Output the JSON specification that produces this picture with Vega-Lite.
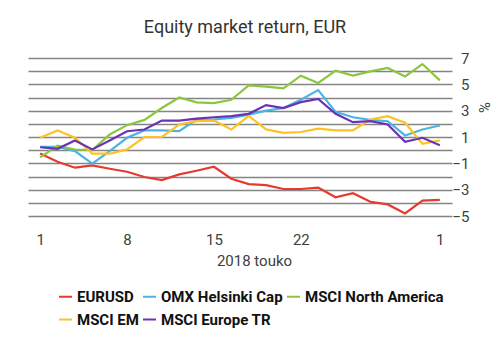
{
  "$schema": "https://vega.github.io/schema/vega-lite/v6.json",
  "width": 424,
  "height": 158,
  "autosize": {"type": "none"},
  "padding": {"left": 28, "top": 58, "right": 49, "bottom": 136},
  "background": "white",
  "title": {
    "text": "Equity market return, EUR",
    "font": "Roboto",
    "fontSize": 18,
    "fontWeight": "normal",
    "color": "#333333",
    "anchor": "middle",
    "dx": 5,
    "offset": 14
  },
  "data": {
    "values": [
      {"date": "2018-05-01", "series": "EURUSD", "value": -0.25},
      {"date": "2018-05-02", "series": "EURUSD", "value": -0.88},
      {"date": "2018-05-03", "series": "EURUSD", "value": -1.33},
      {"date": "2018-05-04", "series": "EURUSD", "value": -1.16},
      {"date": "2018-05-07", "series": "EURUSD", "value": -1.41},
      {"date": "2018-05-08", "series": "EURUSD", "value": -1.64},
      {"date": "2018-05-09", "series": "EURUSD", "value": -2.04},
      {"date": "2018-05-10", "series": "EURUSD", "value": -2.27},
      {"date": "2018-05-11", "series": "EURUSD", "value": -1.84},
      {"date": "2018-05-14", "series": "EURUSD", "value": -1.56},
      {"date": "2018-05-15", "series": "EURUSD", "value": -1.26},
      {"date": "2018-05-16", "series": "EURUSD", "value": -2.17},
      {"date": "2018-05-17", "series": "EURUSD", "value": -2.58},
      {"date": "2018-05-18", "series": "EURUSD", "value": -2.66},
      {"date": "2018-05-21", "series": "EURUSD", "value": -2.95},
      {"date": "2018-05-22", "series": "EURUSD", "value": -2.95},
      {"date": "2018-05-23", "series": "EURUSD", "value": -2.84},
      {"date": "2018-05-24", "series": "EURUSD", "value": -3.58},
      {"date": "2018-05-25", "series": "EURUSD", "value": -3.27},
      {"date": "2018-05-28", "series": "EURUSD", "value": -3.92},
      {"date": "2018-05-29", "series": "EURUSD", "value": -4.12},
      {"date": "2018-05-30", "series": "EURUSD", "value": -4.8},
      {"date": "2018-05-31", "series": "EURUSD", "value": -3.83},
      {"date": "2018-06-01", "series": "EURUSD", "value": -3.78},

      {"date": "2018-05-01", "series": "OMX Helsinki Cap", "value": 0.26},
      {"date": "2018-05-02", "series": "OMX Helsinki Cap", "value": 0.26},
      {"date": "2018-05-03", "series": "OMX Helsinki Cap", "value": -0.07},
      {"date": "2018-05-04", "series": "OMX Helsinki Cap", "value": -1.03},
      {"date": "2018-05-07", "series": "OMX Helsinki Cap", "value": -0.07},
      {"date": "2018-05-08", "series": "OMX Helsinki Cap", "value": 0.94},
      {"date": "2018-05-09", "series": "OMX Helsinki Cap", "value": 1.5},
      {"date": "2018-05-10", "series": "OMX Helsinki Cap", "value": 1.5},
      {"date": "2018-05-11", "series": "OMX Helsinki Cap", "value": 1.44},
      {"date": "2018-05-14", "series": "OMX Helsinki Cap", "value": 2.33},
      {"date": "2018-05-15", "series": "OMX Helsinki Cap", "value": 2.33},
      {"date": "2018-05-16", "series": "OMX Helsinki Cap", "value": 2.45},
      {"date": "2018-05-17", "series": "OMX Helsinki Cap", "value": 2.7},
      {"date": "2018-05-18", "series": "OMX Helsinki Cap", "value": 3.0},
      {"date": "2018-05-21", "series": "OMX Helsinki Cap", "value": 3.2},
      {"date": "2018-05-22", "series": "OMX Helsinki Cap", "value": 3.83},
      {"date": "2018-05-23", "series": "OMX Helsinki Cap", "value": 4.56},
      {"date": "2018-05-24", "series": "OMX Helsinki Cap", "value": 2.91},
      {"date": "2018-05-25", "series": "OMX Helsinki Cap", "value": 2.5},
      {"date": "2018-05-28", "series": "OMX Helsinki Cap", "value": 2.3},
      {"date": "2018-05-29", "series": "OMX Helsinki Cap", "value": 2.2},
      {"date": "2018-05-30", "series": "OMX Helsinki Cap", "value": 1.12},
      {"date": "2018-05-31", "series": "OMX Helsinki Cap", "value": 1.57},
      {"date": "2018-06-01", "series": "OMX Helsinki Cap", "value": 1.87},

      {"date": "2018-05-01", "series": "MSCI North America", "value": -0.55},
      {"date": "2018-05-02", "series": "MSCI North America", "value": 0.35},
      {"date": "2018-05-03", "series": "MSCI North America", "value": 0.05},
      {"date": "2018-05-04", "series": "MSCI North America", "value": 0.0},
      {"date": "2018-05-07", "series": "MSCI North America", "value": 1.19},
      {"date": "2018-05-08", "series": "MSCI North America", "value": 1.9},
      {"date": "2018-05-09", "series": "MSCI North America", "value": 2.3},
      {"date": "2018-05-10", "series": "MSCI North America", "value": 3.2},
      {"date": "2018-05-11", "series": "MSCI North America", "value": 4.0},
      {"date": "2018-05-14", "series": "MSCI North America", "value": 3.63},
      {"date": "2018-05-15", "series": "MSCI North America", "value": 3.58},
      {"date": "2018-05-16", "series": "MSCI North America", "value": 3.83},
      {"date": "2018-05-17", "series": "MSCI North America", "value": 4.92},
      {"date": "2018-05-18", "series": "MSCI North America", "value": 4.82},
      {"date": "2018-05-21", "series": "MSCI North America", "value": 4.69},
      {"date": "2018-05-22", "series": "MSCI North America", "value": 5.66},
      {"date": "2018-05-23", "series": "MSCI North America", "value": 5.1},
      {"date": "2018-05-24", "series": "MSCI North America", "value": 6.04},
      {"date": "2018-05-25", "series": "MSCI North America", "value": 5.66},
      {"date": "2018-05-28", "series": "MSCI North America", "value": 5.98},
      {"date": "2018-05-29", "series": "MSCI North America", "value": 6.24},
      {"date": "2018-05-30", "series": "MSCI North America", "value": 5.6},
      {"date": "2018-05-31", "series": "MSCI North America", "value": 6.54},
      {"date": "2018-06-01", "series": "MSCI North America", "value": 5.3},

      {"date": "2018-05-01", "series": "MSCI EM", "value": 0.94},
      {"date": "2018-05-02", "series": "MSCI EM", "value": 1.5},
      {"date": "2018-05-03", "series": "MSCI EM", "value": 0.94},
      {"date": "2018-05-04", "series": "MSCI EM", "value": -0.27},
      {"date": "2018-05-07", "series": "MSCI EM", "value": -0.27},
      {"date": "2018-05-08", "series": "MSCI EM", "value": 0.06},
      {"date": "2018-05-09", "series": "MSCI EM", "value": 1.0},
      {"date": "2018-05-10", "series": "MSCI EM", "value": 1.0},
      {"date": "2018-05-11", "series": "MSCI EM", "value": 1.95},
      {"date": "2018-05-14", "series": "MSCI EM", "value": 2.2},
      {"date": "2018-05-15", "series": "MSCI EM", "value": 2.25},
      {"date": "2018-05-16", "series": "MSCI EM", "value": 1.57},
      {"date": "2018-05-17", "series": "MSCI EM", "value": 2.6},
      {"date": "2018-05-18", "series": "MSCI EM", "value": 1.58},
      {"date": "2018-05-21", "series": "MSCI EM", "value": 1.32},
      {"date": "2018-05-22", "series": "MSCI EM", "value": 1.38},
      {"date": "2018-05-23", "series": "MSCI EM", "value": 1.63},
      {"date": "2018-05-24", "series": "MSCI EM", "value": 1.5},
      {"date": "2018-05-25", "series": "MSCI EM", "value": 1.5},
      {"date": "2018-05-28", "series": "MSCI EM", "value": 2.33},
      {"date": "2018-05-29", "series": "MSCI EM", "value": 2.58},
      {"date": "2018-05-30", "series": "MSCI EM", "value": 2.08},
      {"date": "2018-05-31", "series": "MSCI EM", "value": 0.48},
      {"date": "2018-06-01", "series": "MSCI EM", "value": 0.74},

      {"date": "2018-05-01", "series": "MSCI Europe TR", "value": 0.22},
      {"date": "2018-05-02", "series": "MSCI Europe TR", "value": 0.1},
      {"date": "2018-05-03", "series": "MSCI Europe TR", "value": 0.74},
      {"date": "2018-05-04", "series": "MSCI Europe TR", "value": 0.06},
      {"date": "2018-05-07", "series": "MSCI Europe TR", "value": 0.74},
      {"date": "2018-05-08", "series": "MSCI Europe TR", "value": 1.44},
      {"date": "2018-05-09", "series": "MSCI Europe TR", "value": 1.57},
      {"date": "2018-05-10", "series": "MSCI Europe TR", "value": 2.25},
      {"date": "2018-05-11", "series": "MSCI Europe TR", "value": 2.25},
      {"date": "2018-05-14", "series": "MSCI Europe TR", "value": 2.4},
      {"date": "2018-05-15", "series": "MSCI Europe TR", "value": 2.5},
      {"date": "2018-05-16", "series": "MSCI Europe TR", "value": 2.58},
      {"date": "2018-05-17", "series": "MSCI Europe TR", "value": 2.76},
      {"date": "2018-05-18", "series": "MSCI Europe TR", "value": 3.42},
      {"date": "2018-05-21", "series": "MSCI Europe TR", "value": 3.2},
      {"date": "2018-05-22", "series": "MSCI Europe TR", "value": 3.65},
      {"date": "2018-05-23", "series": "MSCI Europe TR", "value": 3.89},
      {"date": "2018-05-24", "series": "MSCI Europe TR", "value": 2.76},
      {"date": "2018-05-25", "series": "MSCI Europe TR", "value": 2.13},
      {"date": "2018-05-28", "series": "MSCI Europe TR", "value": 2.2},
      {"date": "2018-05-29", "series": "MSCI Europe TR", "value": 1.95},
      {"date": "2018-05-30", "series": "MSCI Europe TR", "value": 0.64},
      {"date": "2018-05-31", "series": "MSCI Europe TR", "value": 0.94},
      {"date": "2018-06-01", "series": "MSCI Europe TR", "value": 0.38}
    ]
  },
  "mark": {"type": "line", "strokeWidth": 2.2, "interpolate": "linear"},
  "encoding": {
    "x": {
      "field": "date",
      "type": "ordinal",
      "scale": {"type": "point", "padding": 0.7},
      "axis": {
        "title": "2018 touko",
        "values": ["2018-05-01", "2018-05-08", "2018-05-15", "2018-05-22", "2018-06-01"],
        "labelExpr": "toNumber(substring(datum.value, 8, 10))",
        "labelAngle": 0,
        "labelDx": 7,
        "ticks": false,
        "domain": false,
        "grid": false,
        "labelPadding": 16,
        "labelFont": "Roboto",
        "labelFontSize": 15,
        "labelColor": "#404040",
        "titleFont": "Roboto",
        "titleFontSize": 15,
        "titleFontWeight": "normal",
        "titleColor": "#404040",
        "titlePadding": 6,
        "titleX": 226
      }
    },
    "y": {
      "field": "value",
      "type": "quantitative",
      "scale": {"domain": [-5, 7], "nice": false, "zero": false},
      "axis": {
        "orient": "right",
        "title": "%",
        "values": [-5, -4, -3, -2, -1, 0, 1, 2, 3, 4, 5, 6, 7],
        "labelExpr": "datum.value % 2 != 0 ? datum.label : ''",
        "ticks": false,
        "domain": false,
        "grid": true,
        "gridColor": "#858585",
        "gridWidth": 1.6,
        "labelAlign": "right",
        "labelPadding": 17,
        "labelFont": "Roboto",
        "labelFontSize": 15,
        "labelColor": "#404040",
        "titleFont": "Roboto",
        "titleFontSize": 15,
        "titleFontWeight": "normal",
        "titleColor": "#404040",
        "titleX": 23,
        "titleY": 49
      }
    },
    "color": {
      "field": "series",
      "type": "nominal",
      "scale": {
        "domain": ["EURUSD", "OMX Helsinki Cap", "MSCI North America", "MSCI EM", "MSCI Europe TR"],
        "range": ["#E8392F", "#4BB4E6", "#8CC63E", "#FDC321", "#6B32B4"]
      },
      "legend": {
        "title": null,
        "orient": "none",
        "legendX": 30,
        "legendY": 231,
        "direction": "horizontal",
        "columns": 3,
        "columnPadding": 0,
        "rowPadding": 7,
        "symbolType": "stroke",
        "symbolSize": 169,
        "symbolStrokeWidth": 2,
        "labelOffset": 4,
        "labelFont": "Roboto",
        "labelFontSize": 15,
        "labelFontWeight": "bold",
        "labelColor": "#111111",
        "labelLimit": 300
      }
    }
  },
  "config": {
    "view": {"stroke": null}
  }
}
